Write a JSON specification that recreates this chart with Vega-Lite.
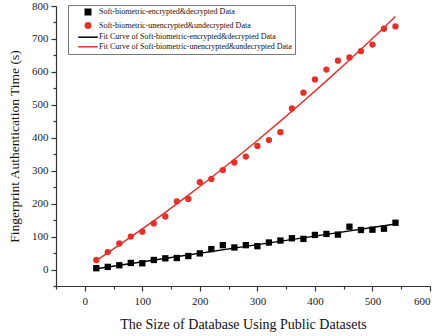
{
  "$schema": "https://vega.github.io/schema/vega-lite/v6.json",
  "autosize": "none",
  "width": 374,
  "height": 280,
  "padding": {"left": 56, "top": 6, "right": 12, "bottom": 50},
  "background": "white",
  "config": {
    "font": "Liberation Serif",
    "view": {"stroke": null},
    "axis": {
      "domainColor": "#333333",
      "domainWidth": 1.2,
      "tickColor": "#333333",
      "tickWidth": 1.2,
      "labelFont": "Liberation Serif",
      "labelFontSize": 11,
      "labelColor": "#222222",
      "titleFont": "Liberation Serif",
      "titleFontWeight": "normal",
      "titleColor": "#111111",
      "grid": false
    }
  },
  "datasets": {
    "pts": [
      {"x": 20, "y": 4, "series": "Soft-biometric-encrypted&decrypted Data"},
      {"x": 40, "y": 8, "series": "Soft-biometric-encrypted&decrypted Data"},
      {"x": 60, "y": 13, "series": "Soft-biometric-encrypted&decrypted Data"},
      {"x": 80, "y": 20, "series": "Soft-biometric-encrypted&decrypted Data"},
      {"x": 100, "y": 19, "series": "Soft-biometric-encrypted&decrypted Data"},
      {"x": 120, "y": 29, "series": "Soft-biometric-encrypted&decrypted Data"},
      {"x": 140, "y": 34, "series": "Soft-biometric-encrypted&decrypted Data"},
      {"x": 160, "y": 35, "series": "Soft-biometric-encrypted&decrypted Data"},
      {"x": 180, "y": 41, "series": "Soft-biometric-encrypted&decrypted Data"},
      {"x": 200, "y": 49, "series": "Soft-biometric-encrypted&decrypted Data"},
      {"x": 220, "y": 62, "series": "Soft-biometric-encrypted&decrypted Data"},
      {"x": 240, "y": 74, "series": "Soft-biometric-encrypted&decrypted Data"},
      {"x": 260, "y": 67, "series": "Soft-biometric-encrypted&decrypted Data"},
      {"x": 280, "y": 74, "series": "Soft-biometric-encrypted&decrypted Data"},
      {"x": 300, "y": 71, "series": "Soft-biometric-encrypted&decrypted Data"},
      {"x": 320, "y": 82, "series": "Soft-biometric-encrypted&decrypted Data"},
      {"x": 340, "y": 88, "series": "Soft-biometric-encrypted&decrypted Data"},
      {"x": 360, "y": 95, "series": "Soft-biometric-encrypted&decrypted Data"},
      {"x": 380, "y": 93, "series": "Soft-biometric-encrypted&decrypted Data"},
      {"x": 400, "y": 105, "series": "Soft-biometric-encrypted&decrypted Data"},
      {"x": 420, "y": 108, "series": "Soft-biometric-encrypted&decrypted Data"},
      {"x": 440, "y": 106, "series": "Soft-biometric-encrypted&decrypted Data"},
      {"x": 460, "y": 130, "series": "Soft-biometric-encrypted&decrypted Data"},
      {"x": 480, "y": 120, "series": "Soft-biometric-encrypted&decrypted Data"},
      {"x": 500, "y": 121, "series": "Soft-biometric-encrypted&decrypted Data"},
      {"x": 520, "y": 124, "series": "Soft-biometric-encrypted&decrypted Data"},
      {"x": 540, "y": 142, "series": "Soft-biometric-encrypted&decrypted Data"},
      {"x": 20, "y": 29, "series": "Soft-biometric-unencrypted&undecrypted Data"},
      {"x": 40, "y": 53, "series": "Soft-biometric-unencrypted&undecrypted Data"},
      {"x": 60, "y": 79, "series": "Soft-biometric-unencrypted&undecrypted Data"},
      {"x": 80, "y": 100, "series": "Soft-biometric-unencrypted&undecrypted Data"},
      {"x": 100, "y": 115, "series": "Soft-biometric-unencrypted&undecrypted Data"},
      {"x": 120, "y": 140, "series": "Soft-biometric-unencrypted&undecrypted Data"},
      {"x": 140, "y": 161, "series": "Soft-biometric-unencrypted&undecrypted Data"},
      {"x": 160, "y": 207, "series": "Soft-biometric-unencrypted&undecrypted Data"},
      {"x": 180, "y": 214, "series": "Soft-biometric-unencrypted&undecrypted Data"},
      {"x": 200, "y": 265, "series": "Soft-biometric-unencrypted&undecrypted Data"},
      {"x": 220, "y": 275, "series": "Soft-biometric-unencrypted&undecrypted Data"},
      {"x": 240, "y": 302, "series": "Soft-biometric-unencrypted&undecrypted Data"},
      {"x": 260, "y": 325, "series": "Soft-biometric-unencrypted&undecrypted Data"},
      {"x": 280, "y": 343, "series": "Soft-biometric-unencrypted&undecrypted Data"},
      {"x": 300, "y": 375, "series": "Soft-biometric-unencrypted&undecrypted Data"},
      {"x": 320, "y": 393, "series": "Soft-biometric-unencrypted&undecrypted Data"},
      {"x": 340, "y": 417, "series": "Soft-biometric-unencrypted&undecrypted Data"},
      {"x": 360, "y": 489, "series": "Soft-biometric-unencrypted&undecrypted Data"},
      {"x": 380, "y": 537, "series": "Soft-biometric-unencrypted&undecrypted Data"},
      {"x": 400, "y": 577, "series": "Soft-biometric-unencrypted&undecrypted Data"},
      {"x": 420, "y": 607, "series": "Soft-biometric-unencrypted&undecrypted Data"},
      {"x": 440, "y": 634, "series": "Soft-biometric-unencrypted&undecrypted Data"},
      {"x": 460, "y": 644, "series": "Soft-biometric-unencrypted&undecrypted Data"},
      {"x": 480, "y": 663, "series": "Soft-biometric-unencrypted&undecrypted Data"},
      {"x": 500, "y": 683, "series": "Soft-biometric-unencrypted&undecrypted Data"},
      {"x": 520, "y": 731, "series": "Soft-biometric-unencrypted&undecrypted Data"},
      {"x": 540, "y": 738, "series": "Soft-biometric-unencrypted&undecrypted Data"}
    ],
    "fits": [
      {"x": 20, "y": 2.7, "series": "Fit Curve of Soft-biometric-encrypted&decrypted Data"},
      {"x": 280, "y": 70.3, "series": "Fit Curve of Soft-biometric-encrypted&decrypted Data"},
      {"x": 540, "y": 137.9, "series": "Fit Curve of Soft-biometric-encrypted&decrypted Data"},
      {"x": 20, "y": 27.3, "series": "Fit Curve of Soft-biometric-unencrypted&undecrypted Data"},
      {"x": 60, "y": 74.5, "series": "Fit Curve of Soft-biometric-unencrypted&undecrypted Data"},
      {"x": 100, "y": 123.2, "series": "Fit Curve of Soft-biometric-unencrypted&undecrypted Data"},
      {"x": 140, "y": 173.7, "series": "Fit Curve of Soft-biometric-unencrypted&undecrypted Data"},
      {"x": 180, "y": 225.8, "series": "Fit Curve of Soft-biometric-unencrypted&undecrypted Data"},
      {"x": 220, "y": 279.4, "series": "Fit Curve of Soft-biometric-unencrypted&undecrypted Data"},
      {"x": 260, "y": 334.7, "series": "Fit Curve of Soft-biometric-unencrypted&undecrypted Data"},
      {"x": 300, "y": 391.8, "series": "Fit Curve of Soft-biometric-unencrypted&undecrypted Data"},
      {"x": 340, "y": 450.4, "series": "Fit Curve of Soft-biometric-unencrypted&undecrypted Data"},
      {"x": 380, "y": 510.7, "series": "Fit Curve of Soft-biometric-unencrypted&undecrypted Data"},
      {"x": 420, "y": 572.6, "series": "Fit Curve of Soft-biometric-unencrypted&undecrypted Data"},
      {"x": 460, "y": 636.2, "series": "Fit Curve of Soft-biometric-unencrypted&undecrypted Data"},
      {"x": 500, "y": 701.4, "series": "Fit Curve of Soft-biometric-unencrypted&undecrypted Data"},
      {"x": 540, "y": 768.3, "series": "Fit Curve of Soft-biometric-unencrypted&undecrypted Data"}
    ]
  },
  "encoding": {
    "x": {
      "field": "x", "type": "quantitative",
      "scale": {"domain": [-50, 600], "nice": false, "zero": false},
      "axis": {
        "title": "The Size of Database Using Public Datasets",
        "titleFontSize": 14,
        "values": [-50, 0, 50, 100, 150, 200, 250, 300, 350, 400, 450, 500, 550, 600],
        "labelExpr": "datum.value % 100 === 0 ? datum.label : ''",
        "tickSize": {"condition": {"test": "datum.value % 100 !== 0", "value": 3}, "value": 5},
        "labelPadding": 4,
        "titlePadding": 11
      }
    },
    "y": {
      "field": "y", "type": "quantitative",
      "scale": {"domain": [-50, 800], "nice": false, "zero": false},
      "axis": {
        "title": "Fingerprint Authentication Time (s)",
        "titleFontSize": 13.5,
        "values": [-50, 0, 50, 100, 150, 200, 250, 300, 350, 400, 450, 500, 550, 600, 650, 700, 750, 800],
        "labelExpr": "datum.value % 100 === 0 ? datum.label : ''",
        "tickSize": {"condition": {"test": "datum.value % 100 !== 0", "value": 3}, "value": 5},
        "labelPadding": 3,
        "titlePadding": 10
      }
    },
    "color": {
      "field": "series", "type": "nominal",
      "scale": {
        "domain": [
          "Soft-biometric-encrypted&decrypted Data",
          "Soft-biometric-unencrypted&undecrypted Data",
          "Fit Curve of Soft-biometric-encrypted&decrypted Data",
          "Fit Curve of Soft-biometric-unencrypted&undecrypted Data"
        ],
        "range": ["#000000", "#e5312b", "#000000", "#e5312b"]
      },
      "legend": {
        "title": null,
        "orient": "none",
        "legendX": 12,
        "legendY": -1,
        "labelFont": "Liberation Serif",
        "labelFontSize": 8,
        "labelColor": "#111111",
        "labelLimit": 300,
        "symbolSize": 64,
        "rowPadding": 1.6,
        "padding": 3,
        "strokeColor": "#777777",
        "symbolStrokeWidth": 1.5,
        "encode": {
          "symbols": {
            "update": {
              "x": {"value": 17},
              "stroke": {"signal": "datum.index % 2 === 1 ? '#e5312b' : '#000000'"},
              "fill": {"signal": "datum.index % 2 === 1 ? '#e5312b' : '#000000'"},
              "shape": {"signal": "datum.index >= 2 ? 'stroke' : (datum.index === 1 ? 'circle' : 'square')"},
              "size": {"signal": "datum.index >= 2 ? 380 : 30"}
            }
          },
          "labels": {
            "update": {
              "x": {"value": 28}
            }
          }
        }
      }
    }
  },
  "layer": [
    {
      "data": {"name": "fits"},
      "mark": {"type": "line", "strokeWidth": 1.5, "interpolate": "monotone"}
    },
    {
      "data": {"name": "pts"},
      "mark": {"type": "point", "filled": true, "opacity": 1, "size": 40},
      "encoding": {
        "shape": {
          "field": "series", "type": "nominal",
          "scale": {
            "domain": [
              "Soft-biometric-encrypted&decrypted Data",
              "Soft-biometric-unencrypted&undecrypted Data"
            ],
            "range": ["square", "circle"]
          },
          "legend": null
        }
      }
    }
  ]
}
